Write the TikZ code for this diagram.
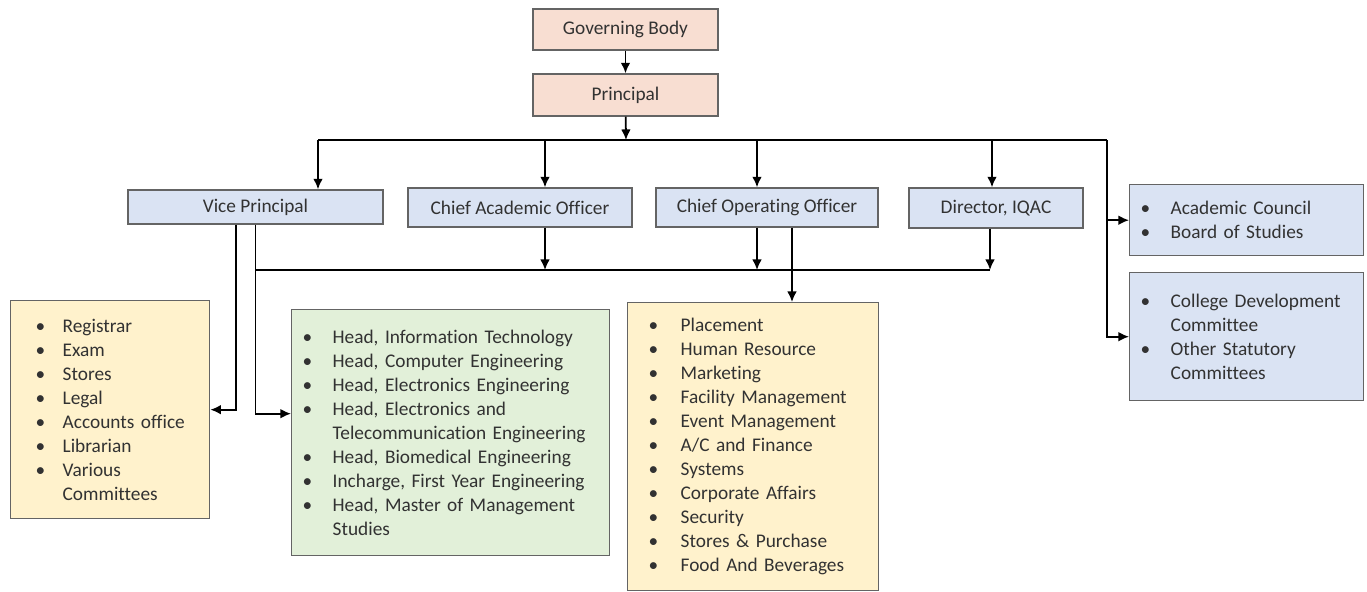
\documentclass[tikz,border=0pt]{standalone}
\usepackage{fontspec}
\setmainfont{Carlito}[Ligatures=NoCommon]
\usetikzlibrary{arrows.meta}
\definecolor{bodybg}{RGB}{248,222,210}
\definecolor{postbg}{RGB}{218,227,243}
\definecolor{dutybg}{RGB}{255,242,204}
\definecolor{deptbg}{RGB}{226,240,217}
\definecolor{edgegray}{RGB}{100,100,100}
\definecolor{inkgray}{RGB}{50,50,50}
\newlength{\bulw}
\newcommand{\bul}{\makebox[\bulw][l]{\textbullet}}
\newcommand{\nobul}{\hspace*{\bulw}}
\begin{document}
\begin{tikzpicture}
[x=0.02cm,y=-0.02cm,%
  every node/.style={font=\fontsize{11}{13.66}\selectfont,text=inkgray},%
  box/.style={draw=edgegray,line width=0.8pt,inner sep=0pt},%
  head/.style={box,fill=bodybg,minimum width=3.7cm},%
  post/.style={box,fill=postbg,minimum height=0.78cm},%
  duties/.style={box,anchor=north west,align=left,inner ysep=0pt,%
    font=\fontsize{11}{13.66}\selectfont\setlength{\bulw}{#1}},%
  link/.style={line width=1pt,-{Latex[length=6pt,width=5.5pt]}},%
  bus/.style={line width=1pt}]
\useasboundingbox (0,0) rectangle (1367,592);

% governing body and principal
\node[head,minimum height=0.82cm] (gb) at (625.5,29.5) {Governing Body};
\node[head,minimum height=0.84cm] (prin) at (625.5,95) {Principal};

% officers
\node[post,minimum width=5.1cm,minimum height=0.68cm] (vp) at (255.5,207) {Vice Principal};
\node[post,minimum width=4.48cm] (cao) at (520,207.5) {Chief Academic Officer};
\node[post,minimum width=4.44cm] (coo) at (767,207.5) {Chief Operating Officer};
\node[post,minimum width=3.48cm,minimum height=0.8cm] (iqac) at (996,208) {Director, IQAC};

% councils and committees
\node[duties=0.6cm,fill=postbg,text width=4.24cm,inner xsep=0.22cm,minimum height=1.42cm]
  (acad) at (1129,184) {\bul Academic Council\\ \bul Board of Studies};
\node[duties=0.6cm,fill=postbg,text width=4.24cm,inner xsep=0.22cm,minimum height=2.56cm]
  (cdc) at (1129,272) {\bul College Development\\ \nobul Committee\\
  \bul Other Statutory\\ \nobul Committees};

% lists of offices
\node[duties=0.54cm,fill=dutybg,text width=2.98cm,inner xsep=0.5cm,minimum height=4.36cm]
  (vplist) at (10,300) {\bul Registrar\\ \bul Exam\\ \bul Stores\\ \bul Legal\\
  \bul \mbox{Accounts office}\\ \bul Librarian\\ \bul Various\\ \nobul Committees};
\node[duties=0.6cm,fill=deptbg,text width=5.92cm,inner xsep=0.22cm,minimum height=4.92cm]
  (hodlist) at (291,309) {\bul Head, Information Technology\\
  \bul Head, Computer Engineering\\ \bul Head, Electronics Engineering\\
  \bul Head, Electronics and\\ \nobul Telecommunication Engineering\\
  \bul Head, Biomedical Engineering\\ \bul Incharge, First Year Engineering\\
  \bul Head, Master of Management\\ \nobul Studies};
\node[duties=0.64cm,fill=dutybg,text width=4.18cm,inner xsep=0.42cm,minimum height=5.76cm]
  (coolist) at (627,302) {\bul Placement\\ \bul Human Resource\\ \bul Marketing\\
  \bul Facility Management\\ \bul Event Management\\ \bul A/C and Finance\\
  \bul Systems\\ \bul Corporate Affairs\\ \bul Security\\
  \bul Stores \& Purchase\\ \bul Food And Beverages};

% bus points
\coordinate (top) at (626,140);
\coordinate (t1) at (318,140);
\coordinate (t2) at (545,140);
\coordinate (t3) at (757,140);
\coordinate (t4) at (992,140);
\coordinate (t5) at (1107,140);
\coordinate (b0) at (255,270);
\coordinate (b1) at (545,270);
\coordinate (b2) at (757,270);
\coordinate (b3) at (990,270);
\coordinate (cooout) at ([xshift=0.5cm]coo.south);

% connectors
\draw[link] (gb) -- (prin);
\draw[link] (prin) -- (top);
\draw[bus] (t1) -- (t5);
\foreach \t/\n in {t1/vp,t2/cao,t3/coo,t4/iqac}
  \draw[link] (\t) -- (\t |- \n.north);
\draw[link] (t5) |- (acad.west);
\draw[link] (t5) |- (cdc.west);
\draw[bus] (b0) -- (b3);
\foreach \b/\n in {b1/cao,b2/coo,b3/iqac}
  \draw[link] (\b |- \n.south) -- (\b);
\draw[link] (vp.south) |- ([yshift=0.38cm]hodlist.west);
\draw[link] ([xshift=-0.39cm]vp.south) |- (vplist.east);
\draw[link] (cooout) -- (cooout |- coolist.north);
\end{tikzpicture}
\end{document}
